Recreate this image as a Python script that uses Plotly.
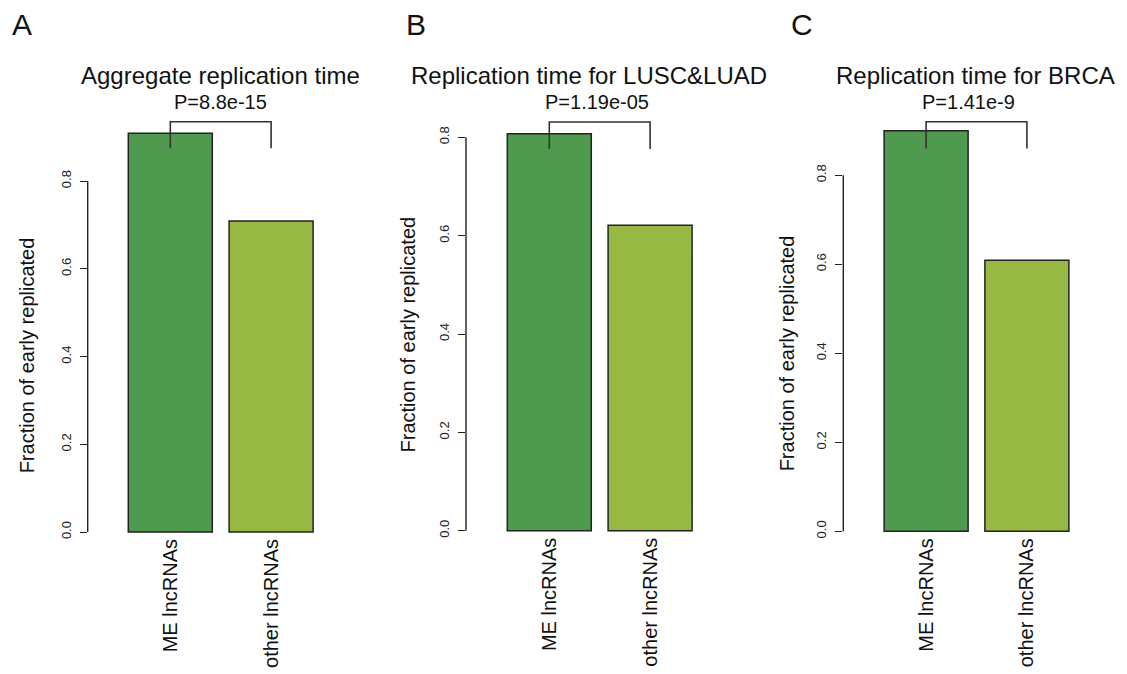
import plotly.graph_objects as go

# ---------------- data ----------------
categories = ["ME lncRNAs", "other lncRNAs"]
panel_letters = ["A", "B", "C"]
panel_titles = ["Aggregate replication time", "Replication time for LUSC&LUAD", "Replication time for BRCA"]
p_values = ["P=8.8e-15", "P=1.19e-05", "P=1.41e-9"]
values_A = [0.909, 0.709]
values_B = [0.807, 0.621]
values_C = [0.900, 0.609]
bracket_top = [0.935, 0.831, 0.920]
bracket_leg = [0.875, 0.776, 0.860]
y_tick_vals = [0.0, 0.2, 0.4, 0.6, 0.8]
y_tick_text = ["0.0", "0.2", "0.4", "0.6", "0.8"]
y_label = "Fraction of early replicated"

bar_positions = [0.7, 1.9]
bar_colors = ["#4F9A4F", "#97B944"]

# ---------------- layout geometry (pixels) ----------------
W, H = 1127, 674
panels = [
    dict(vals=values_A, x0=111.5, ax=87.7, y0=536.0, ppy=442.0,
         title_x=220.5, p_x=220.0, ylab_x=27, ylab_y=358, letter_x=22),
    dict(vals=values_B, x0=490.5, ax=466.0, y0=534.7, ppy=495.5,
         title_x=589.0, p_x=597.0, ylab_x=407, ylab_y=337, letter_x=416),
    dict(vals=values_C, x0=867.3, ax=843.3, y0=535.3, ppy=448.5,
         title_x=975.5, p_x=968.5, ylab_x=787, ylab_y=356, letter_x=802),
]
PPX = 84.0
PANEL_W = 270
TOP_PX = 110

FONT = "Liberation Sans, Arial, Helvetica, sans-serif"

fig = go.Figure()
shapes = []
annotations = []

for i, p in enumerate(panels):
    n = "" if i == 0 else str(i + 1)
    xa, ya = "x" + n, "y" + n
    left_px = p["ax"]
    right_px = p["ax"] + PANEL_W
    bottom_px = p["y0"] + 2
    xrange = [(left_px - p["x0"]) / PPX, (right_px - p["x0"]) / PPX]
    yrange = [(p["y0"] - bottom_px) / p["ppy"], (p["y0"] - TOP_PX) / p["ppy"]]

    fig.add_trace(go.Bar(
        x=bar_positions, y=p["vals"], width=1.0,
        marker=dict(color=bar_colors, line=dict(color="#222222", width=1.5)),
        xaxis=xa, yaxis=ya, showlegend=False, hoverinfo="x+y",
    ))
    # significance bracket
    fig.add_trace(go.Scatter(
        x=[bar_positions[0], bar_positions[0], bar_positions[1], bar_positions[1]],
        y=[bracket_leg[i], bracket_top[i], bracket_top[i], bracket_leg[i]],
        mode="lines", line=dict(color="#333333", width=1.6),
        xaxis=xa, yaxis=ya, showlegend=False, hoverinfo="skip",
    ))

    xkey = "xaxis" + n
    ykey = "yaxis" + n
    fig.layout[xkey] = dict(
        domain=[left_px / W, right_px / W], range=xrange, anchor=ya,
        tickvals=bar_positions, ticktext=categories, tickangle=-90,
        showgrid=False, zeroline=False, showline=False, ticks="",
        tickfont=dict(family=FONT, size=20, color="#111111"),
        fixedrange=True,
    )
    fig.layout[ykey] = dict(
        domain=[1 - bottom_px / H, 1 - TOP_PX / H], range=yrange, anchor=xa,
        tickvals=y_tick_vals, ticktext=y_tick_text, tickangle=-90,
        showgrid=False, zeroline=False, showline=False,
        ticks="outside", ticklen=7, tickwidth=1.4, tickcolor="#222222",
        ticklabelstandoff=4,
        tickfont=dict(family=FONT, size=13, color="#222222"),
        fixedrange=True,
    )
    # partial y-axis line (0 to 0.8) like R
    shapes.append(dict(type="line", xref=xa + " domain", yref=ya,
                       x0=0, x1=0, y0=y_tick_vals[0], y1=y_tick_vals[-1],
                       line=dict(color="#222222", width=1.4)))

    annotations.append(dict(text=panel_letters[i], x=p["letter_x"] / W, y=1 - 25 / H,
                            xref="paper", yref="paper", showarrow=False,
                            xanchor="center", yanchor="middle",
                            font=dict(family=FONT, size=30, color="#111111")))
    annotations.append(dict(text=panel_titles[i], x=p["title_x"] / W, y=1 - 76 / H,
                            xref="paper", yref="paper", showarrow=False,
                            xanchor="center", yanchor="middle",
                            font=dict(family=FONT, size=24, color="#111111")))
    annotations.append(dict(text=p_values[i], x=p["p_x"] / W, y=1 - 103 / H,
                            xref="paper", yref="paper", showarrow=False,
                            xanchor="center", yanchor="middle",
                            font=dict(family=FONT, size=20, color="#111111")))
    annotations.append(dict(text=y_label, x=p["ylab_x"] / W, y=1 - p["ylab_y"] / H,
                            xref="paper", yref="paper", showarrow=False, textangle=-90,
                            xanchor="center", yanchor="middle",
                            font=dict(family=FONT, size=20, color="#111111")))

fig.update_layout(
    width=W, height=H,
    margin=dict(l=0, r=0, t=0, b=0),
    paper_bgcolor="white", plot_bgcolor="white",
    shapes=shapes, annotations=annotations,
    font=dict(family=FONT),
)

fig.write_html(
    "out.html",
    config={"displayModeBar": False},
    post_script="document.body.style.margin='0px';document.body.style.overflow='hidden';",
)
